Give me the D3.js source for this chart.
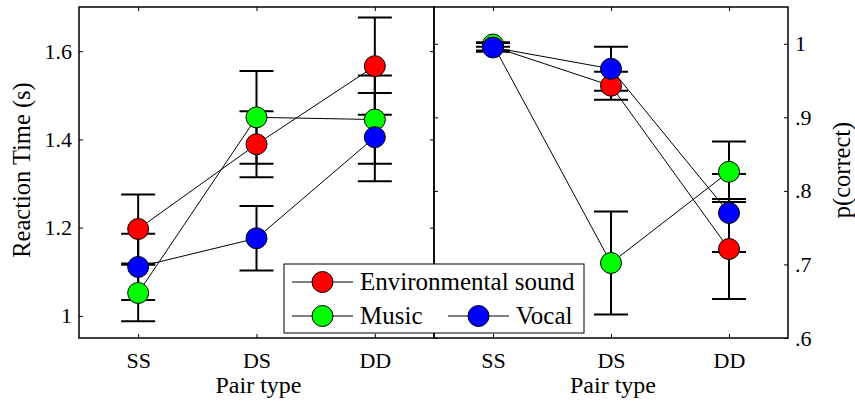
<!DOCTYPE html>
<html>
<head>
<meta charset="utf-8">
<script src="https://cdn.jsdelivr.net/npm/d3@7"></script>
<style>
  body { margin: 0; background: #fff; }
  svg { font-family: "Liberation Serif", "Times New Roman", serif; }
</style>
</head>
<body>
<svg id="chart"></svg>
<script>
// categories and series
const pairTypes = ['SS', 'DS', 'DD'];
const seriesNames = ['Environmental sound', 'Music', 'Vocal'];
const seriesColors = ['#ff0000', '#00ff00', '#0000ff'];

// reaction time (s), mean and error
const rtEnv = [1.197, 1.389, 1.566];
const rtEnvErr = [0.078, 0.075, 0.11];
const rtMusic = [1.052, 1.45, 1.445];
const rtMusicErr = [0.064, 0.105, 0.10];
const rtVocal = [1.111, 1.176, 1.405];
const rtVocalErr = [0.075, 0.073, 0.10];

// p(correct), mean and error
const pcEnv = [0.996, 0.943, 0.721];
const pcEnvErr = [0.005, 0.019, 0.068];
const pcMusic = [0.999, 0.702, 0.826];
const pcMusicErr = [0.003, 0.07, 0.041];
const pcVocal = [0.995, 0.966, 0.770];
const pcVocalErr = [0.006, 0.03, 0.053];

// tick labels
const rtTicks = [1, 1.2, 1.4, 1.6];
const pcTicks = [0.6, 0.7, 0.8, 0.9, 1];

const width = 855, height = 401;
const plotTop = 7, plotBottom = 338;
const tickLen = 4;

const svg = d3.select('#chart')
    .attr('width', width)
    .attr('height', height);

function drawPanel(x0, x1, yDomain, ticks, tickFmt, side, data, errs, yLabel) {
    const xScale = d3.scaleLinear().domain([0.5, 3.5]).range([x0, x1]);
    const yScale = d3.scaleLinear().domain(yDomain).range([plotBottom, plotTop]);
    const xPos = i => xScale(i + 1);

    const g = svg.append('g');

    // box
    g.append('rect')
        .attr('x', x0).attr('y', plotTop)
        .attr('width', x1 - x0).attr('height', plotBottom - plotTop)
        .attr('fill', 'none').attr('stroke', '#000').attr('stroke-width', 1.5);

    // bottom axis with labels
    const xb = g.append('g')
        .attr('transform', `translate(0, ${plotBottom})`)
        .call(d3.axisBottom(xScale).tickValues([1, 2, 3])
            .tickFormat(d => pairTypes[d - 1]).tickSize(-tickLen).tickPadding(14));
    // top mirror
    const xt = g.append('g')
        .attr('transform', `translate(0, ${plotTop})`)
        .call(d3.axisTop(xScale).tickValues([1, 2, 3]).tickFormat('').tickSize(-tickLen));

    let yMain, yMirror;
    if (side === 'left') {
        yMain = g.append('g').attr('transform', `translate(${x0}, 0)`)
            .call(d3.axisLeft(yScale).tickValues(ticks).tickFormat(tickFmt).tickSize(-tickLen).tickPadding(7));
        yMirror = g.append('g').attr('transform', `translate(${x1}, 0)`)
            .call(d3.axisRight(yScale).tickValues(ticks).tickFormat('').tickSize(-tickLen));
    } else {
        yMain = g.append('g').attr('transform', `translate(${x1}, 0)`)
            .call(d3.axisRight(yScale).tickValues(ticks).tickFormat(tickFmt).tickSize(-tickLen).tickPadding(7));
        yMirror = g.append('g').attr('transform', `translate(${x0}, 0)`)
            .call(d3.axisLeft(yScale).tickValues(ticks).tickFormat('').tickSize(-tickLen));
    }

    [xb, xt, yMain, yMirror].forEach(a => {
        a.select('.domain').remove();
        a.selectAll('line').attr('stroke', '#000').attr('stroke-width', 1);
        a.selectAll('text').attr('font-size', 22).attr('fill', '#000')
            .attr('font-family', '"Liberation Serif", "Times New Roman", serif');
    });

    // error bars
    data.forEach((vals, s) => {
        vals.forEach((v, i) => {
            const x = xPos(i);
            const e = errs[s][i];
            const yt = yScale(v + e), yb = yScale(v - e);
            g.append('line').attr('x1', x).attr('x2', x).attr('y1', yt).attr('y2', yb)
                .attr('stroke', '#000').attr('stroke-width', 2);
            [yt, yb].forEach(yy => {
                g.append('line').attr('x1', x - 17).attr('x2', x + 17).attr('y1', yy).attr('y2', yy)
                    .attr('stroke', '#000').attr('stroke-width', 2);
            });
        });
    });

    // connecting lines
    const line = d3.line().x((d, i) => xPos(i)).y(d => yScale(d));
    data.forEach(vals => {
        g.append('path').attr('d', line(vals))
            .attr('fill', 'none').attr('stroke', '#000').attr('stroke-width', 1);
    });

    // markers
    data.forEach((vals, s) => {
        vals.forEach((v, i) => {
            g.append('circle')
                .attr('cx', xPos(i)).attr('cy', yScale(v)).attr('r', 10.5)
                .attr('fill', seriesColors[s]).attr('stroke', '#000').attr('stroke-width', 1);
        });
    });

    // x label
    g.append('text')
        .attr('x', (x0 + x1) / 2 + 2).attr('y', 393)
        .attr('text-anchor', 'middle').attr('font-size', 24)
        .text('Pair type');

    // y label
    const lx = side === 'left' ? 30 : 850;
    g.append('text')
        .attr('transform', `translate(${lx}, 170) rotate(-90)`)
        .attr('text-anchor', 'middle').attr('font-size', 24.5)
        .text(yLabel);
}

drawPanel(79, 434, [0.95, 1.7], rtTicks, d => d3.format('')(d), 'left',
    [rtEnv, rtMusic, rtVocal], [rtEnvErr, rtMusicErr, rtVocalErr], 'Reaction Time (s)');

drawPanel(434, 788, [0.6, 1.05], pcTicks, d => d === 1 ? '1' : d3.format('.1f')(d).replace(/^0/, ''), 'right',
    [pcEnv, pcMusic, pcVocal], [pcEnvErr, pcMusicErr, pcVocalErr], 'p(correct)');

// legend
const legend = svg.append('g');
legend.append('rect')
    .attr('x', 284).attr('y', 264).attr('width', 300).attr('height', 69)
    .attr('fill', '#fff').attr('stroke', '#000').attr('stroke-width', 1);

const legendItems = [
    { x: 292, y: 282 },
    { x: 292, y: 316 },
    { x: 448, y: 316 }
];
legendItems.forEach((p, s) => {
    legend.append('line')
        .attr('x1', p.x).attr('x2', p.x + 61).attr('y1', p.y).attr('y2', p.y)
        .attr('stroke', '#000').attr('stroke-width', 1);
    legend.append('circle')
        .attr('cx', p.x + 30.5).attr('cy', p.y).attr('r', 10.5)
        .attr('fill', seriesColors[s]).attr('stroke', '#000').attr('stroke-width', 1);
    legend.append('text')
        .attr('x', p.x + 68).attr('y', p.y + 8)
        .attr('font-size', 25)
        .text(seriesNames[s]);
});
</script>
</body>
</html>
